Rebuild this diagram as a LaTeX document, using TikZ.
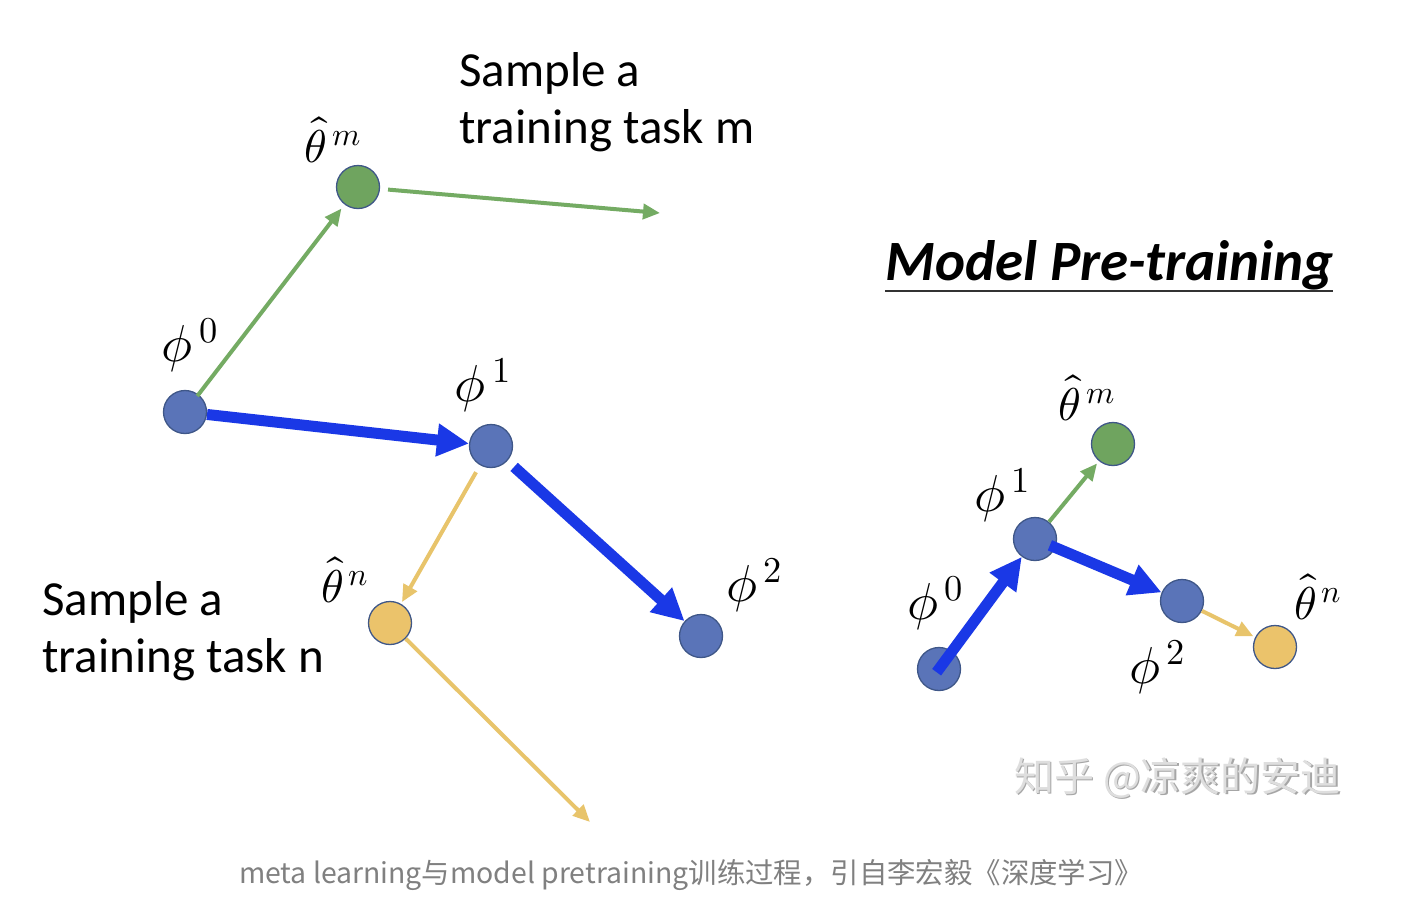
\documentclass[tikz,border=0pt]{standalone}
\usepackage{fontspec}
\usepackage{unicode-math}
\setmainfont{Carlito}
\setmathfont{Latin Modern Math}
\newfontfamily\cjk{Noto Sans CJK SC}
\usetikzlibrary{arrows.meta}
\definecolor{nblue}{HTML}{5A74B8}
\definecolor{nedge}{HTML}{3F5788}
\definecolor{ngreen}{HTML}{6FA45F}
\definecolor{nyellow}{HTML}{EBC36B}
\definecolor{agreen}{HTML}{74AB63}
\definecolor{ayellow}{HTML}{E8C46B}
\definecolor{ablue}{HTML}{1A38E6}
\tikzset{
  dot/.style={circle, inner sep=0pt, minimum size=43pt, draw=nedge, line width=1.3pt},
  bdot/.style={dot, fill=nblue},
  gdot/.style={dot, fill=ngreen},
  ydot/.style={dot, fill=nyellow},
  thinarrow/.style={line width=4pt, -{Triangle[length=17pt,width=15pt]}},
  garrow/.style={thinarrow, draw=agreen},
  yarrow/.style={thinarrow, draw=ayellow},
  barrow/.style={line width=11pt, draw=ablue, -{Triangle[length=32pt,width=31pt]}},
  plbl/.style={font=\fontsize{52}{56}\selectfont, inner sep=1pt},
  tlbl/.style={font=\fontsize{46}{50}\selectfont, inner sep=1pt},
  txt/.style={font=\fontsize{49}{56}\selectfont, anchor=base west, inner sep=0pt},
  wmtext/.style={font=\cjk\fontsize{40}{44}\selectfont, inner sep=0pt},
}
\begin{document}
\begin{tikzpicture}[x=1pt,y=-1pt]
\useasboundingbox (0,0) rectangle (1404,914);
\fill[white] (0,0) rectangle (1404,914);
% ---------- left diagram ----------
\node[bdot] (L0) at (185,412) {};
\node[gdot] (Lm) at (358,187) {};
\node[bdot] (L1) at (491,446) {};
\node[ydot] (Ln) at (390,623) {};
\node[bdot] (L2) at (701,636) {};
\coordinate (Mend) at (660,213);
\coordinate (Nend) at (590,822);
\draw[garrow, shorten <=-2pt, shorten >=5pt] (L0) -- (Lm);
\draw[garrow, shorten <=8pt] (Lm) -- (Mend);
\draw[barrow] (L0) -- (L1);
\draw[yarrow, shorten <=8pt, shorten >=2pt] (L1) -- (Ln);
\draw[barrow, shorten <=9pt] (L1) -- (L2);
\draw[yarrow] (Ln) -- (Nend);
\node[tlbl] (tLm) at (333,140) {$\hat{\theta}^{\,m}$};
\node[plbl] (tL0) at (190,345) {$\phi^{\,0}$};
\node[plbl] (tL1) at (483,385) {$\phi^{\,1}$};
\node[tlbl] (tLn) at (345,580) {$\hat{\theta}^{\,n}$};
\node[plbl] (tL2) at (754,585) {$\phi^{\,2}$};
\node[txt] (sm1) at (459,86) {Sample a};
\node[txt] (sm2) at (459,143) {training task m};
\node[txt] (sn1) at (42,615) {Sample a};
\node[txt] (sn2) at (42,672) {training task n};
% ---------- right diagram ----------
\node[font=\fontsize{57}{60}\selectfont\bfseries\itshape, anchor=base west, inner sep=0pt] (title) at (885,280) {Model Pre-training};
\draw[line width=2pt, draw=black!80] (885,291) -- (1333,291);
\node[bdot] (R0) at (939,669) {};
\node[bdot] (R1) at (1035,539) {};
\node[gdot] (Rm) at (1113,444) {};
\node[bdot] (R2) at (1182,601) {};
\node[ydot] (Rn) at (1275,647) {};
\draw[garrow, shorten >=3pt] (R1) -- (Rm);
\draw[yarrow, shorten >=2pt] (R2) -- (Rn);
\draw[barrow, shorten <=-4pt] (R0.center) -- (R1);
\draw[barrow, shorten <=-6pt] (R1) -- (R2);
\node[plbl] (tR0) at (935,603) {$\phi^{\,0}$};
\node[plbl] (tR1) at (1002,495) {$\phi^{\,1}$};
\node[tlbl] (tRm) at (1087,398) {$\hat{\theta}^{\,m}$};
\node[plbl] (tR2) at (1157,667) {$\phi^{\,2}$};
\node[tlbl] (tRn) at (1318,597) {$\hat{\theta}^{\,n}$};
% ---------- watermark & caption ----------
\node[wmtext, text=black!35] (wms) at (1179,779.5) {知乎 @凉爽的安迪};
\node[wmtext, text=black!13] (wm) at (1177.5,778) {知乎 @凉爽的安迪};
\node[font=\cjk\fontsize{28.4}{30}\selectfont, text=black!50, inner sep=0pt] (cap) at (691,875) {meta learning与model pretraining训练过程，引自李宏毅《深度学习》};
\end{tikzpicture}
\end{document}
